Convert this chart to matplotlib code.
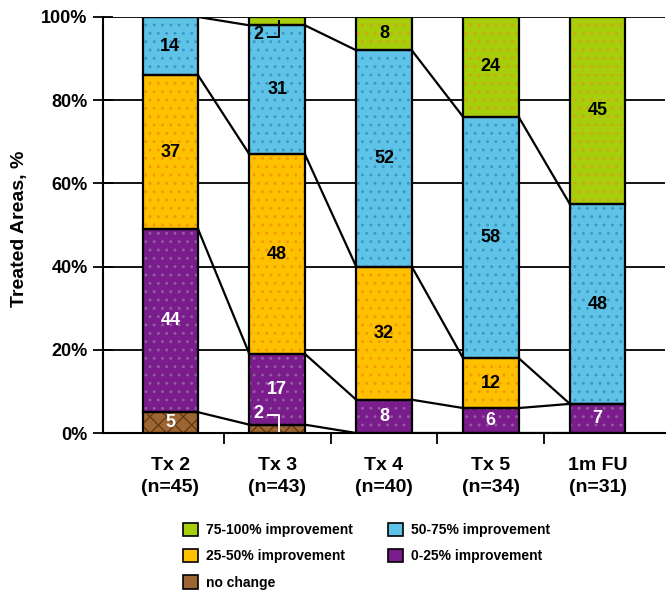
import numpy as np
import matplotlib
matplotlib.use('Agg')
import matplotlib.pyplot as plt
from matplotlib.patches import Patch

plt.rcParams['font.family'] = ['Liberation Sans', 'DejaVu Sans']
plt.rcParams['font.weight'] = 'bold'
plt.rcParams['hatch.linewidth'] = 0.9

visits = ['Tx 2', 'Tx 3', 'Tx 4', 'Tx 5', '1m FU']
n_patients = [45, 43, 40, 34, 31]

# percent of treated areas per improvement category, bottom to top
no_change = [5, 2, 0, 0, 0]
imp_0_25 = [44, 17, 8, 6, 7]
imp_25_50 = [37, 48, 32, 12, 0]
imp_50_75 = [14, 31, 52, 58, 48]
imp_75_100 = [0, 2, 8, 24, 45]

series = [no_change, imp_0_25, imp_25_50, imp_50_75, imp_75_100]
names = ['no change', '0-25% improvement', '25-50% improvement',
         '50-75% improvement', '75-100% improvement']
fills = ['#9C6531', '#7A1C8C', '#FFC000', '#5EC3E6', '#A6CE0A']
dots = ['#5E3912', '#8F5E9E', '#F29A00', '#3A98C8', '#D8A21A']
hatches = ['xx', '..', '..', '..', '..']
text_cols = ['white', 'white', 'black', 'black', 'black']

fig = plt.figure(figsize=(6.67, 5.9), dpi=100)
ax = fig.add_axes([0.1544, 0.2661, 0.8426, 0.7051])

x = np.arange(len(visits))
w = 0.52
bottom = np.zeros(len(visits))
tops = []
for vals, fc, dc, h, tc in zip(series, fills, dots, hatches, text_cols):
    vals = np.array(vals, dtype=float)
    ax.bar(x, vals, w, bottom=bottom, color=fc, edgecolor=dc, hatch=h,
           linewidth=0, zorder=3)
    ax.bar(x, vals, w, bottom=bottom, fill=False, edgecolor='black',
           linewidth=1.6, zorder=4)
    for xi, v, b in zip(x, vals, bottom):
        if v >= 5:
            ax.text(xi, b + v / 2, f'{int(v)}', ha='center', va='center',
                    color=tc, fontsize=13, fontweight='bold', zorder=6)
    bottom = bottom + vals
    tops.append(bottom.copy())

# series lines between neighbouring bars
for lvl in tops[:-1]:
    for i in range(len(visits) - 1):
        ax.plot([x[i] + w / 2, x[i + 1] - w / 2], [lvl[i], lvl[i + 1]],
                color='black', linewidth=1.6, zorder=5)

# small Tx 3 segments labelled with leader lines
ax.text(0.82, 95.7, f'{imp_75_100[1]}', ha='center', va='center',
        color='black', fontsize=13, fontweight='bold', zorder=6)
ax.plot([0.91, 1.02, 1.02], [95.2, 95.2, 99.0], color='black',
        linewidth=1.4, zorder=6)
ax.text(0.82, 4.8, f'{no_change[1]}', ha='center', va='center',
        color='white', fontsize=13, fontweight='bold', zorder=6)
ax.plot([0.91, 1.02, 1.02], [4.3, 4.3, 0.4], color='white',
        linewidth=1.4, zorder=6)

ax.set_xlim(-0.63, 4.63)
ax.set_ylim(0, 100)
ax.set_yticks(np.arange(0, 101, 20))
ax.set_yticklabels([f'{v}%' for v in range(0, 101, 20)], fontsize=13,
                   fontweight='bold')
ax.yaxis.grid(True, color='black', linewidth=1.3, zorder=1)
ax.set_axisbelow(True)

ax.set_xticks(np.arange(0.5, 4, 1.0))
ax.set_xticklabels([])
ax.set_xticks(x, minor=True)
ax.set_xticklabels([f'{v}\n(n={n})' for v, n in zip(visits, n_patients)],
                   minor=True, fontsize=14, fontweight='bold',
                   linespacing=1.4)
ax.tick_params(axis='x', which='major', direction='out', length=8, width=1.3)
ax.tick_params(axis='x', which='minor', length=0, pad=17)
ax.tick_params(axis='y', direction='inout', length=14, width=1.3, pad=4)

for side in ['top', 'right']:
    ax.spines[side].set_visible(False)
for side in ['left', 'bottom']:
    ax.spines[side].set_linewidth(1.5)

ax.set_ylabel('Treated Areas, %', fontsize=14, fontweight='bold')
ax.yaxis.set_label_coords(-0.133, 0.49)

order = [4, 2, 0, 3, 1]
handles = [Patch(facecolor=fills[i], edgecolor='black', linewidth=1.2,
                 label=names[i]) for i in order]
fig.legend(handles=handles, ncol=2, loc='upper left',
           bbox_to_anchor=(0.255, 0.135), frameon=False,
           handlelength=1.1, handleheight=1.1, handletextpad=0.6,
           columnspacing=2.5, labelspacing=0.85,
           prop={'weight': 'bold', 'size': 10})

fig.savefig('out.png', dpi=100)
